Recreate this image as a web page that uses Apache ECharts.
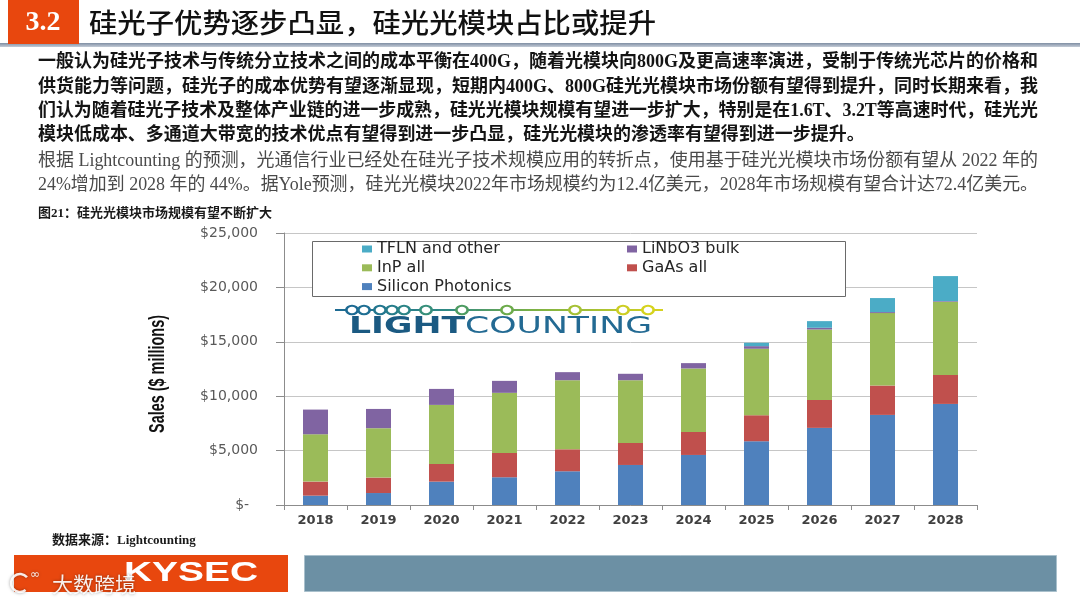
<!DOCTYPE html>
<html><head><meta charset="utf-8">
<script src="https://cdn.jsdelivr.net/npm/echarts@6/dist/echarts.min.js"></script>
<style>html,body{margin:0;padding:0;background:#fff}#c{width:1080px;height:608px}</style>
</head><body><div id="c"></div>
<script>
// ---- chart data ----
const years = ['2018','2019','2020','2021','2022','2023','2024','2025','2026','2027','2028'];
const siliconPhotonics = [860,1100,2150,2550,3100,3680,4600,5860,7090,8280,9290];
const gaasAll          = [1290,1420,1620,2240,2020,2030,2120,2390,2570,2700,2670];
const inpAll           = [4350,4540,5430,5520,6350,5760,5830,6110,6470,6660,6720];
const linbo3Bulk       = [2270,1770,1470,1100,740,590,490,240,160,90,60];
const tflnOther        = [0,0,0,0,0,0,0,310,610,1290,2300];
const yTickValues = [0,5000,10000,15000,20000,25000];
const seriesNames = ['Silicon Photonics','GaAs all','InP all','LiNbO3 bulk','TFLN and other'];
const seriesColors = ['#4f81bd','#c0504d','#9bbb59','#8064a2','#4bacc6'];
const yAxisTitle = 'Sales ($ millions)';

// ---- texts ----
const headerNo = '3.2';
const headerTitle = '硅光子优势逐步凸显，硅光光模块占比或提升';
const para1 = [
 '一般认为硅光子技术与传统分立技术之间的成本平衡在400G，随着光模块向800G及更高速率演进，受制于传统光芯片的价格和',
 '供货能力等问题，硅光子的成本优势有望逐渐显现，短期内400G、800G硅光光模块市场份额有望得到提升，同时长期来看，我',
 '们认为随着硅光子技术及整体产业链的进一步成熟，硅光光模块规模有望进一步扩大，特别是在1.6T、3.2T等高速时代，硅光光',
 '模块低成本、多通道大带宽的技术优点有望得到进一步凸显，硅光光模块的渗透率有望得到进一步提升。'
];
const para2 = [
 '根据 Lightcounting 的预测，光通信行业已经处在硅光子技术规模应用的转折点，使用基于硅光光模块市场份额有望从 2022 年的',
 '24%增加到 2028 年的 44%。据Yole预测，硅光光模块2022年市场规模约为12.4亿美元，2028年市场规模有望合计达72.4亿美元。'
];
const figCaption = '图21：硅光光模块市场规模有望不断扩大';
const sourceText = '数据来源：Lightcounting';

const serifCJK = "'Liberation Serif','Noto Sans CJK SC'";
const cv = document.createElement('canvas').getContext('2d');
function measure(text, weight, size, family){
  cv.font = weight + ' ' + size + 'px ' + family;
  return cv.measureText(text).width;
}

const graphics = [];
// header
graphics.push({type:'rect', shape:{x:0,y:43,width:1080,height:4}, style:{fill:new echarts.graphic.LinearGradient(0,0,0,1,[{offset:0,color:'#7f8ea3'},{offset:1,color:'#c3cbd6'}])}, z:1});
graphics.push({type:'rect', shape:{x:8,y:0,width:71,height:44}, style:{fill:'#e8470e'}, z:2});
graphics.push({type:'text', x:43, y:23, style:{text:headerNo, fill:'#fff', font:"bold 28px 'Liberation Serif'", align:'center', verticalAlign:'middle'}, z:3});
const titleW = measure(headerTitle, '500', 27, "'Noto Sans CJK SC'");
graphics.push({type:'text', x:89, y:23, scaleX:567/titleW, originX:0, style:{text:headerTitle, fill:'#111', fontFamily:"'Noto Sans CJK SC'", fontWeight:500, fontSize:27, verticalAlign:'middle'}, z:3});

// paragraphs
function addPara(lines, ys, weight, size, color, justify){
  let scales = [];
  lines.forEach((t,i)=>{
    const w = measure(t, weight, size, serifCJK);
    scales.push(1000 / w);
  });
  const avg = scales.slice(0, justify).reduce((a,b)=>a+b,0)/justify;
  lines.forEach((t,i)=>{
    const s = i < justify ? scales[i] : Math.min(avg, scales[i]);
    graphics.push({type:'text', x:38, y:ys[i], scaleX:s, originX:0,
      style:{text:t, fill:color, fontFamily:serifCJK, fontWeight:weight, fontSize:size, verticalAlign:'middle'}});
  });
}
addPara(para1, [62,87,111,135], 'bold', 18, '#141414', 3);
addPara(para2, [161,185], 'normal', 18, '#4a4a4a', 1);

graphics.push({type:'text', x:38, y:214, style:{text:figCaption, fill:'#1a1a1a', fontFamily:serifCJK, fontWeight:'bold', fontSize:13, verticalAlign:'middle'}});

// y-axis title
const yNameW = measure(yAxisTitle, 'bold', 22, "'Liberation Sans'");
graphics.push({type:'text', x:158, y:374, rotation:Math.PI/2, scaleX:118/yNameW,
  style:{text:yAxisTitle, fill:'#111', fontFamily:'Liberation Sans', fontWeight:'bold', fontSize:22, align:'center', verticalAlign:'middle'}});

// legend box
graphics.push({type:'rect', shape:{x:312.5,y:241.5,width:533,height:55}, style:{fill:'#fff', stroke:'#6a6a6a', lineWidth:1}, z:1});

// logo
const logoCircles = [352,364,380,392,404,426,462,507,575,623,648];
const logoColors = ['#1d6a93','#1f6f93','#22768f','#267d8b','#2b8486','#378f7b','#4e9c62','#6dab4b','#a6c135','#cdce24','#d6d31d'];
graphics.push({type:'line', shape:{x1:335,y1:310,x2:663,y2:310}, style:{stroke:new echarts.graphic.LinearGradient(0,0,1,0,[{offset:0,color:'#1d6a93'},{offset:0.35,color:'#2f8a84'},{offset:0.6,color:'#7bb145'},{offset:1,color:'#d8d31e'}]), lineWidth:2}, z:1});
logoCircles.forEach((cx,i)=>{
  graphics.push({type:'circle', x:cx, y:310, scaleX:1.35, shape:{cx:0,cy:0,r:4.2}, style:{fill:'#fff', stroke:logoColors[i], lineWidth:2}, z:2});
});
const logoW = measure('LIGHT','bold',23,"'DejaVu Sans'") + measure('COUNTING','normal',23,"'DejaVu Sans'");
graphics.push({type:'text', x:349, y:327, scaleX:303/logoW, originX:0, z:2,
  style:{text:'{b|LIGHT}{n|COUNTING}', verticalAlign:'middle', rich:{
    b:{fontFamily:'DejaVu Sans', fontWeight:'bold', fontSize:23, fill:'#1b5a82', color:'#1b5a82'},
    n:{fontFamily:'DejaVu Sans', fontWeight:'normal', fontSize:23, fill:'#236a93', color:'#236a93'}}}});

// footer
graphics.push({type:'text', x:52, y:541, style:{text:sourceText, fill:'#1a1a1a', fontFamily:serifCJK, fontWeight:'bold', fontSize:13, verticalAlign:'middle'}});
graphics.push({type:'rect', shape:{x:14,y:555,width:274,height:37}, style:{fill:'#e8470e'}});
const kW = measure('KYSEC','bold',27,"'Liberation Sans'");
graphics.push({type:'text', x:124, y:574, scaleX:134/kW, originX:0, style:{text:'KYSEC', fill:'#fff', font:"bold 27px 'Liberation Sans'", verticalAlign:'middle'}});
graphics.push({type:'rect', shape:{x:304.5,y:555.5,width:752,height:36}, style:{fill:'#6c90a4', stroke:'#a9c0cc', lineWidth:1}});
graphics.push({type:'arc', shape:{cx:20,cy:583,r:9,startAngle:0.9,endAngle:5.6}, style:{stroke:'rgba(255,255,255,0.9)', lineWidth:2.5, fill:null, shadowColor:'rgba(0,0,0,0.4)', shadowBlur:3}, z:5});
graphics.push({type:'text', x:30, y:575, style:{text:'∞', fill:'rgba(255,255,255,0.9)', font:"12px 'DejaVu Sans'", verticalAlign:'middle', textShadowColor:'rgba(0,0,0,0.4)', textShadowBlur:3}, z:5});
graphics.push({type:'text', x:52, y:584, style:{text:'大数跨境', fill:'rgba(255,255,255,0.92)', fontFamily:'Noto Sans CJK SC', fontSize:21, verticalAlign:'middle', textShadowColor:'rgba(0,0,0,0.45)', textShadowBlur:3}, z:5});

const seriesData = [siliconPhotonics, gaasAll, inpAll, linbo3Bulk, tflnOther];
const legendText = {fontFamily:'DejaVu Sans', fontSize:16, color:'#262626', lineHeight:16};

const option = {
  animation:false,
  backgroundColor:'#fff',
  grid:{left:284, right:103, top:233, bottom:103, containLabel:false},
  legend:[
    {data:['TFLN and other','InP all','Silicon Photonics'], left:362, top:241, orient:'vertical', icon:'rect', itemWidth:10, itemHeight:7, itemGap:2.8, padding:0, selectedMode:false, textStyle:legendText},
    {data:['LiNbO3 bulk','GaAs all'], left:627, top:241, orient:'vertical', icon:'rect', itemWidth:10, itemHeight:7, itemGap:2.8, padding:0, selectedMode:false, textStyle:legendText}
  ],
  xAxis:{type:'category', data:years,
    axisLine:{lineStyle:{color:'#8c8c8c'}},
    axisTick:{show:true, alignWithLabel:false, length:5, lineStyle:{color:'#8c8c8c'}},
    axisLabel:{color:'#404040', fontFamily:'DejaVu Sans', fontWeight:'bold', fontSize:13, margin:9}},
  yAxis:{type:'value', min:0, max:25000, interval:5000,
    axisLine:{show:true, lineStyle:{color:'#8c8c8c'}},
    axisTick:{show:true, inside:false, length:8, lineStyle:{color:'#8c8c8c'}},
    splitLine:{lineStyle:{color:'#c6c6c6'}},
    axisLabel:{color:'#595959', fontFamily:'DejaVu Sans', fontSize:14, margin:26,
      formatter:v => yTickValues.includes(v) ? (v===0 ? '$-  ' : '$' + v.toLocaleString('en-US')) : ''}},
  series: seriesNames.map((n,i)=>({name:n, type:'bar', stack:'total', barWidth:25, data:seriesData[i], itemStyle:{color:seriesColors[i]}})),
  graphic:{elements:graphics}
};
const chart = echarts.init(document.getElementById('c'), null, {renderer:'canvas'});
chart.setOption(option);
</script></body></html>
